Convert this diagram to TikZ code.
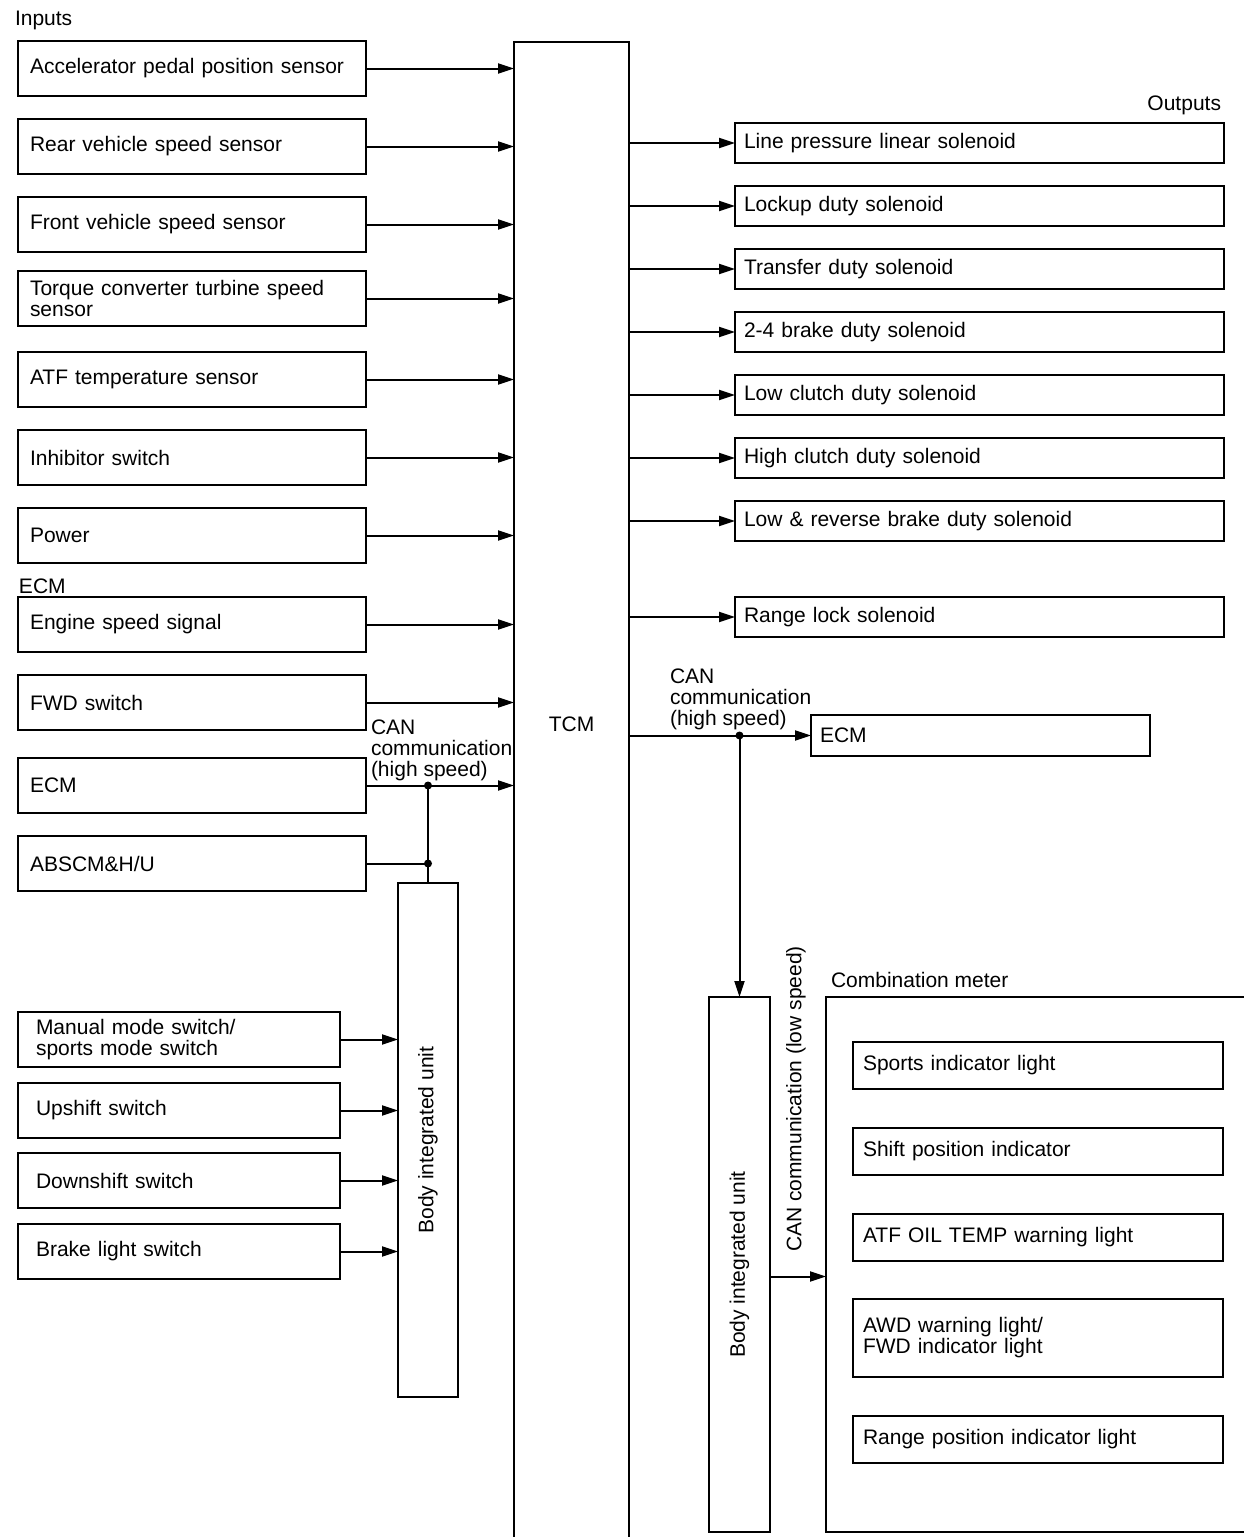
\documentclass[tikz,border=0pt]{standalone}
\usepackage{fontspec}
\setmainfont{Liberation Sans}
\usetikzlibrary{arrows.meta,positioning}
\tikzset{
  inbox/.style={rectangle, draw=black, line width=2pt, align=left, text width=324pt,
    inner xsep=12pt, inner ysep=0pt, outer sep=0pt, minimum width=348pt, minimum height=55pt, anchor=north west},
  swbox/.style={rectangle, draw=black, line width=2pt, align=left, text width=286pt,
    inner xsep=18pt, inner ysep=0pt, outer sep=0pt, minimum width=322pt, minimum height=55pt, anchor=north west},
  outbox/.style={rectangle, draw=black, line width=2pt, align=left, text width=471pt,
    inner xsep=9pt, inner ysep=0pt, outer sep=0pt, minimum width=489pt, minimum height=40pt, anchor=north west},
  lampbox/.style={rectangle, draw=black, line width=2pt, align=left, text width=350pt,
    inner xsep=10pt, inner ysep=0pt, outer sep=0pt, minimum width=370pt, minimum height=47pt, anchor=north west},
  biubox/.style={rectangle, draw=black, line width=2pt, inner sep=0pt, outer sep=0pt,
    minimum width=60pt, anchor=north},
  tag/.style={inner sep=0pt},
  sigarrow/.style={-{Triangle[length=16pt,width=10pt]}, line width=2pt, draw=black}
}
\begin{document}
\begin{tikzpicture}[x=1pt, y=-1pt, line width=2pt,
  every node/.style={font=\fontsize{21}{21}\selectfont}]
  \useasboundingbox (0,0) rectangle (1244,1537);

  % TCM, open at the bottom
  \node[minimum width=115pt, minimum height=1500pt, anchor=north, inner sep=0pt, outer sep=0pt] (tcm) at (571.5,42) {};
  \draw (tcm.south west) -- (tcm.north west) -- (tcm.north east) -- (tcm.south east);
  \node (tcmname) at (571.5,724) {TCM};

  % inputs
  \node[tag, anchor=base west] (inputs) at (14,25) {Inputs};
  \node[inbox] (accel) at (18,41) {Accelerator pedal position sensor};
  \node[inbox, below=23pt of accel] (rear) {Rear vehicle speed sensor};
  \node[inbox, below=23pt of rear] (front) {Front vehicle speed sensor};
  \node[inbox, below=19pt of front] (turbine) {Torque converter turbine speed\\sensor};
  \node[inbox, below=26pt of turbine] (atftemp) {ATF temperature sensor};
  \node[inbox, below=23pt of atftemp] (inhib) {Inhibitor switch};
  \node[inbox, below=23pt of inhib] (power) {Power};
  \node[tag, anchor=base west] (ecmtitle) at (18,593) {ECM};
  \node[inbox, below=34pt of power] (engine) {Engine speed signal};
  \node[inbox, below=23pt of engine] (fwdsw) {FWD switch};
  \node[inbox, below=28pt of fwdsw] (ecml) {ECM};
  \node[inbox, below=23pt of ecml] (abscm) {ABSCM\&H/U};

  \draw[sigarrow] (accel.east) -- (accel.east -| tcm.west);
  \draw[sigarrow] (rear.east) -- (rear.east -| tcm.west);
  \draw[sigarrow] (front.east) -- (front.east -| tcm.west);
  \draw[sigarrow] (turbine.east) -- (turbine.east -| tcm.west);
  \draw[sigarrow] (atftemp.east) -- (atftemp.east -| tcm.west);
  \draw[sigarrow] (inhib.east) -- (inhib.east -| tcm.west);
  \draw[sigarrow] (power.east) -- (power.east -| tcm.west);
  \draw[sigarrow] (engine.east) -- (engine.east -| tcm.west);
  \draw[sigarrow] (fwdsw.east) -- (fwdsw.east -| tcm.west);
  \draw[sigarrow] (ecml.east) -- (ecml.east -| tcm.west);

  % CAN (high speed), left side
  \node[tag, anchor=north west, align=left] (canleft) at (370,719) {CAN\\communication\\(high speed)};
  \node[biubox, minimum height=514pt] (biul) at (428,883) {\rotatebox{90}{Body integrated unit}};
  \coordinate (jl1) at (biul.north |- ecml.east);
  \coordinate (jl2) at (biul.north |- abscm.east);
  \draw (abscm.east) -- (jl2);
  \draw (jl1) -- (biul.north);
  \fill (jl1) circle (4pt);
  \fill (jl2) circle (4pt);

  % switches to the body integrated unit
  \node[swbox] (manual) at (18,1012) {Manual mode switch/\\sports mode switch};
  \node[swbox, below=16pt of manual] (upsw) {Upshift switch};
  \node[swbox, below=15pt of upsw] (downsw) {Downshift switch};
  \node[swbox, below=16pt of downsw] (brakesw) {Brake light switch};
  \draw[sigarrow] (manual.east) -- (manual.east -| biul.west);
  \draw[sigarrow] (upsw.east) -- (upsw.east -| biul.west);
  \draw[sigarrow] (downsw.east) -- (downsw.east -| biul.west);
  \draw[sigarrow] (brakesw.east) -- (brakesw.east -| biul.west);

  % outputs
  \node[tag, anchor=base east] (outputs) at (1222,110) {Outputs};
  \node[outbox] (linepres) at (735,123) {Line pressure linear solenoid};
  \node[outbox, below=23pt of linepres] (lockup) {Lockup duty solenoid};
  \node[outbox, below=23pt of lockup] (transfer) {Transfer duty solenoid};
  \node[outbox, below=23pt of transfer] (brake24) {2-4 brake duty solenoid};
  \node[outbox, below=23pt of brake24] (lowcl) {Low clutch duty solenoid};
  \node[outbox, below=23pt of lowcl] (highcl) {High clutch duty solenoid};
  \node[outbox, below=23pt of highcl] (lowrev) {Low \& reverse brake duty solenoid};
  \node[outbox, below=56pt of lowrev] (rangelock) {Range lock solenoid};

  \draw[sigarrow] (linepres.west -| tcm.east) -- (linepres.west);
  \draw[sigarrow] (lockup.west -| tcm.east) -- (lockup.west);
  \draw[sigarrow] (transfer.west -| tcm.east) -- (transfer.west);
  \draw[sigarrow] (brake24.west -| tcm.east) -- (brake24.west);
  \draw[sigarrow] (lowcl.west -| tcm.east) -- (lowcl.west);
  \draw[sigarrow] (highcl.west -| tcm.east) -- (highcl.west);
  \draw[sigarrow] (lowrev.west -| tcm.east) -- (lowrev.west);
  \draw[sigarrow] (rangelock.west -| tcm.east) -- (rangelock.west);

  % CAN (high speed), right side
  \node[tag, anchor=north west, align=left] (canright) at (669,668) {CAN\\communication\\(high speed)};
  \node[outbox, text width=321pt, minimum width=339pt, minimum height=41pt] (ecmr) at (811,715) {ECM};
  \node[biubox, minimum height=535pt, minimum width=61pt] (biur) at (739.5,997) {\rotatebox{90}{Body integrated unit}};
  \coordinate (jr) at (biur.north |- ecmr.west);
  \draw[sigarrow] (ecmr.west -| tcm.east) -- (ecmr.west);
  \draw[sigarrow] (jr) -- (biur.north);
  \fill (jr) circle (4pt);

  % combination meter, open on the right
  \node[rotate=90] (canlow) at (796,1099) {CAN communication (low speed)};
  \node[minimum width=440pt, minimum height=535pt, anchor=north west, inner sep=0pt, outer sep=0pt] (meter) at (826,997) {};
  \draw (meter.north east) -- (meter.north west) -- (meter.south west) -- (meter.south east);
  \node[tag, anchor=base west] (metername) at (830,987) {Combination meter};
  \draw[sigarrow] ([yshift=-12pt]biur.east) -- ([yshift=-12pt]biur.east -| meter.west);

  \node[lampbox] (sports) at (853,1042) {Sports indicator light};
  \node[lampbox, below=39pt of sports] (shiftpos) {Shift position indicator};
  \node[lampbox, below=39pt of shiftpos] (oiltemp) {ATF OIL TEMP warning light};
  \node[lampbox, below=38pt of oiltemp, minimum height=78pt] (awd) {AWD warning light/\\FWD indicator light};
  \node[lampbox, below=39pt of awd] (rangepos) {Range position indicator light};
\end{tikzpicture}
\end{document}
